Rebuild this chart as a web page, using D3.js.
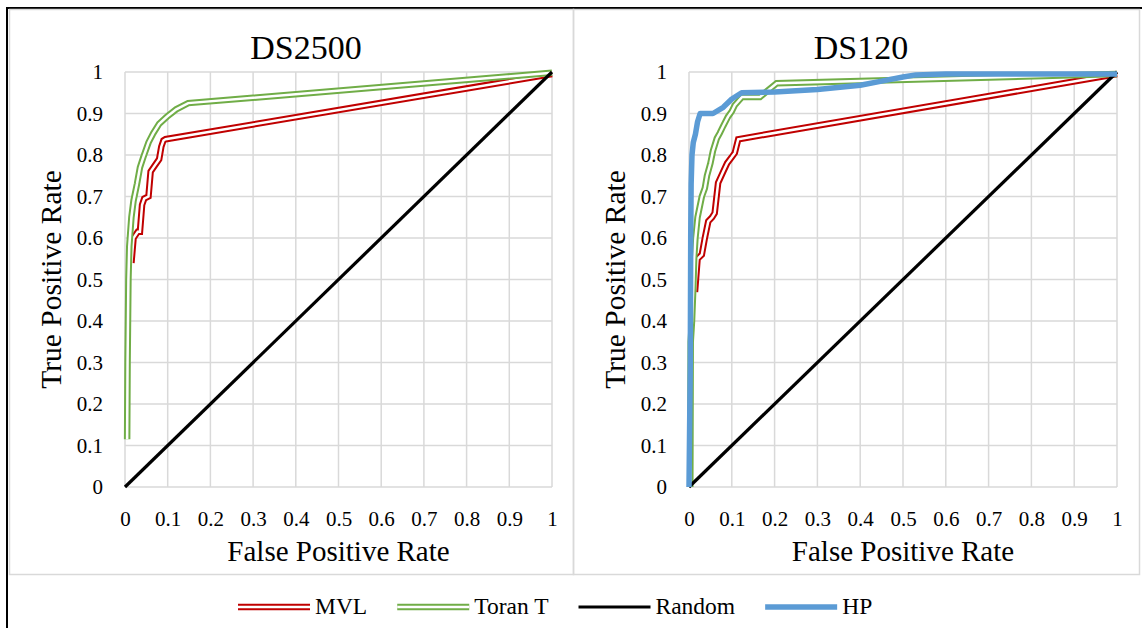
<!DOCTYPE html>
<html><head><meta charset="utf-8">
<script src="https://cdn.jsdelivr.net/npm/d3@7"></script>
<style>body{margin:0;background:#fff}svg{display:block}text{font-family:"Liberation Serif","Times New Roman",serif;fill:#000}</style>
</head><body><svg id="c" width="1142" height="628"></svg>
<script>
// ---- data ----
const panelTitles = ["DS2500", "DS120"];
const tickValues = [0,0.1,0.2,0.3,0.4,0.5,0.6,0.7,0.8,0.9,1];
const tickLabels = ["0","0.1","0.2","0.3","0.4","0.5","0.6","0.7","0.8","0.9","1"];
const seriesNames = ["MVL", "Toran T", "Random", "HP"];

// DS2500
const ds2500_mvl_fpr = [0.015,0.02,0.03,0.035,0.04,0.045,0.055,0.06,0.07,0.08,0.085,0.09,0.095,1];
const ds2500_mvl_tpr = [0.54,0.6,0.615,0.615,0.68,0.695,0.70,0.76,0.775,0.79,0.82,0.835,0.838,0.995];
const ds2500_toran_fpr = [0.005,0.006,0.008,0.01,0.015,0.02,0.028,0.035,0.043,0.055,0.066,0.08,0.098,0.12,0.148,1];
const ds2500_toran_tpr = [0.115,0.3,0.5,0.58,0.65,0.69,0.73,0.77,0.795,0.83,0.852,0.875,0.892,0.91,0.925,0.998];
const random_fpr = [0,1];
const random_tpr = [0,1];

// DS120
const ds120_mvl_fpr = [0.014,0.02,0.03,0.037,0.045,0.054,0.06,0.068,0.08,0.089,0.1,0.107,0.115,1];
const ds120_mvl_tpr = [0.47,0.55,0.56,0.6,0.64,0.65,0.66,0.733,0.76,0.78,0.795,0.805,0.838,0.995];
const ds120_toran_fpr = [0.003,0.004,0.007,0.01,0.012,0.015,0.02,0.03,0.037,0.042,0.05,0.056,0.065,0.072,0.08,0.091,0.1,0.107,0.124,0.166,0.205,1];
const ds120_toran_tpr = [0,0.35,0.4,0.48,0.55,0.6,0.65,0.7,0.72,0.75,0.78,0.81,0.84,0.853,0.87,0.892,0.905,0.92,0.94,0.94,0.973,0.995];
const ds120_hp_fpr = [0,0.003,0.004,0.005,0.007,0.01,0.015,0.02,0.026,0.056,0.08,0.1,0.123,0.2,0.3,0.4,0.45,0.5,0.53,0.6,1];
const ds120_hp_tpr = [0,0.3,0.6,0.73,0.8,0.83,0.85,0.88,0.9,0.9,0.915,0.935,0.95,0.952,0.958,0.968,0.978,0.988,0.993,0.995,0.995];

// ---- styles ----
const colors = {"MVL":"#c00000","Toran T":"#70ad47","Random":"#000000","HP":"#5b9bd5"};
const zip = (a,b)=>a.map((v,i)=>[v,b[i]]);

const panels = [
  {title:panelTitles[0], x0:125, x1:552, tx:306, border:[9,573],
   series:[["MVL",zip(ds2500_mvl_fpr,ds2500_mvl_tpr)],["Toran T",zip(ds2500_toran_fpr,ds2500_toran_tpr)],["Random",zip(random_fpr,random_tpr)]]},
  {title:panelTitles[1], x0:689, x1:1117, tx:861, border:[573,1139],
   series:[["MVL",zip(ds120_mvl_fpr,ds120_mvl_tpr)],["Toran T",zip(ds120_toran_fpr,ds120_toran_tpr)],["Random",zip(random_fpr,random_tpr)],["HP",zip(ds120_hp_fpr,ds120_hp_tpr)]]}
];

const svg = d3.select("#c");
svg.append("rect").attr("x",7).attr("y",8).attr("width",1160).attr("height",660).attr("fill","none").attr("stroke","#000").attr("stroke-width",2);
panels.forEach(p=>{
  svg.append("rect").attr("x",p.border[0]+0.5).attr("y",9.5).attr("width",p.border[1]-p.border[0]).attr("height",565)
    .attr("fill","none").attr("stroke","#d9d9d9").attr("stroke-width",1.5);
});

function drawLine(g, name, pts, line){
  const c = colors[name];
  if (name==="MVL" || name==="Toran T"){
    g.append("path").datum(pts).attr("d",line).attr("fill","none").attr("stroke",c).attr("stroke-width",6.5).attr("stroke-linejoin","miter");
    g.append("path").datum(pts).attr("d",line).attr("fill","none").attr("stroke","#fff").attr("stroke-width",2.5).attr("stroke-linejoin","miter");
  } else if (name==="HP"){
    g.append("path").datum(pts).attr("d",line).attr("fill","none").attr("stroke",c).attr("stroke-width",5.5).attr("stroke-linejoin","round");
  } else {
    g.append("path").datum(pts).attr("d",line).attr("fill","none").attr("stroke",c).attr("stroke-width",3.2);
  }
}

panels.forEach(p=>{
  const x = d3.scaleLinear().domain([0,1]).range([p.x0,p.x1]);
  const y = d3.scaleLinear().domain([0,1]).range([487,72]);
  const g = svg.append("g");
  g.selectAll(".gx").data(tickValues).enter().append("line")
    .attr("x1",d=>x(d)).attr("x2",d=>x(d)).attr("y1",y(0)).attr("y2",y(1)).attr("stroke","#d9d9d9").attr("stroke-width",1.5);
  g.selectAll(".gy").data(tickValues).enter().append("line")
    .attr("y1",d=>y(d)).attr("y2",d=>y(d)).attr("x1",x(0)).attr("x2",x(1)).attr("stroke","#d9d9d9").attr("stroke-width",1.5);
  const xa = g.append("g").attr("transform",`translate(0,${y(0)})`)
    .call(d3.axisBottom(x).tickValues(tickValues).tickFormat((d,i)=>tickLabels[i]).tickSize(0).tickPadding(24));
  xa.select(".domain").remove();
  xa.selectAll("text").attr("font-size",21).attr("font-family","Liberation Serif").attr("fill","#000");
  const ya = g.append("g").attr("transform",`translate(${x(0)},0)`)
    .call(d3.axisLeft(y).tickValues(tickValues).tickFormat((d,i)=>tickLabels[i]).tickSize(0).tickPadding(22));
  ya.select(".domain").remove();
  ya.selectAll("text").attr("font-size",21).attr("font-family","Liberation Serif").attr("fill","#000");
  const line = d3.line().x(d=>x(d[0])).y(d=>y(d[1]));
  p.series.forEach(([name,pts])=>drawLine(g,name,pts,line));
  svg.append("text").attr("x",p.tx).attr("y",59).attr("text-anchor","middle").attr("font-size",34).text(p.title);
  svg.append("text").attr("x",(p.x0+p.x1)/2).attr("y",561).attr("text-anchor","middle").attr("font-size",29).text("False Positive Rate");
  svg.append("text").attr("transform",`translate(${p.x0-64},${(y(0)+y(1))/2}) rotate(-90)`).attr("text-anchor","middle").attr("font-size",29.5).text("True Positive Rate");
});

let lx = 238;
const ly = 607;
seriesNames.forEach(name=>{
  const lg = svg.append("g");
  const pts = [[lx,ly],[lx+72,ly]];
  const ln = d3.line();
  drawLine(lg,name,pts,ln);
  const t = lg.append("text").attr("x",lx+77).attr("y",ly+7).attr("font-size",23.5).text(name);
  lx = lx + 77 + t.node().getComputedTextLength() + 30;
});
</script></body></html>
